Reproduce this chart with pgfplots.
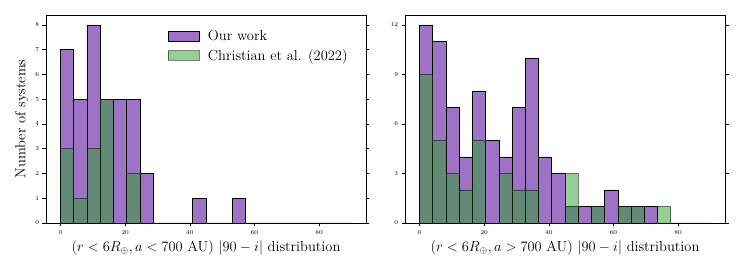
\documentclass[border=0pt]{standalone}
\usepackage{pgfplots}
\pgfplotsset{compat=1.18}
\definecolor{cpurple}{RGB}{158,114,196}
\definecolor{cgreen}{RGB}{44,160,44}

\pgfplotstableread{
x    y
0.00  7
4.09  5
8.18  8
12.27 5
16.36 5
20.45 5
24.55 2
28.64 0
32.73 0
36.82 0
40.91 1
45.00 0
49.09 0
53.18 1
57.27 0
61.36 0
65.45 0
69.55 0
73.64 0
77.73 0
81.82 0
85.91 0
90.00 0
}\leftours
\pgfplotstableread{
x    y
0.00  3
4.09  1
8.18  3
12.27 5
16.36 0
20.45 2
24.55 0
28.64 0
32.73 0
36.82 0
40.91 0
45.00 0
49.09 0
53.18 0
57.27 0
61.36 0
65.45 0
69.55 0
73.64 0
77.73 0
81.82 0
85.91 0
90.00 0
}\leftchr
\pgfplotstableread{
x    y
0.00  12
4.09  11
8.18  7
12.27 4
16.36 8
20.45 5
24.55 4
28.64 7
32.73 10
36.82 4
40.91 3
45.00 1
49.09 1
53.18 1
57.27 2
61.36 1
65.45 1
69.55 1
73.64 0
77.73 0
81.82 0
85.91 0
90.00 0
}\rightours
\pgfplotstableread{
x    y
0.00  9
4.09  5
8.18  3
12.27 2
16.36 5
20.45 0
24.55 3
28.64 2
32.73 2
36.82 0
40.91 0
45.00 3
49.09 0
53.18 1
57.27 0
61.36 1
65.45 1
69.55 0
73.64 1
77.73 0
81.82 0
85.91 0
90.00 0
}\rightchr

\pgfplotsset{
  hist/.style={
    width=320pt, height=208pt, scale only axis,
    xmin=-4.5, xmax=94.5, ymin=0,
    xtick={0,20,40,60,80},
    tick align=outside, xtick pos=bottom, ytick pos=both, yticklabel pos=left,
    major tick length=3.5pt,
    tick label style={font=\fontsize{6}{7}\selectfont},
    label style={font=\fontsize{14.5}{17}\selectfont},
    axis line style={line width=0.9pt},
    every tick/.style={black, line width=0.6pt},
    xticklabel style={yshift=-1pt},
    xlabel style={yshift=1pt},
  },
  ours/.style={ybar interval, fill=cpurple, draw=black, line width=0.6pt,
    legend image code/.code={\draw[#1] (0pt,-4.5pt) rectangle (31pt,5pt); \path[draw=none,fill=none] (0pt,0pt) -- (38pt,0pt);}},
  chr/.style={ybar interval, fill=cgreen, fill opacity=0.5, draw=black, draw opacity=0.5, line width=0.6pt,
    legend image code/.code={\draw[#1] (0pt,-4.5pt) rectangle (31pt,5pt); \path[draw=none,fill=none] (0pt,0pt) -- (38pt,0pt);}},
}

\begin{document}
\begin{tikzpicture}
\begin{axis}[hist, at={(0pt,0pt)},
  ymax=8.4, ytick={0,1,...,8},
  xlabel={$(r<6R_\oplus, a<700$ AU$)$ $|90-i|$ distribution},
  ylabel={Number of systems},
  legend style={at={(rel axis cs:0.37,0.945)}, anchor=north west, draw=none, fill=none,
    font=\fontsize{14.5}{17}\selectfont, legend cell align=left, row sep=3pt},
]
\addplot[ours] table[x=x,y=y] {\leftours};
\addlegendentry{Our work}
\addplot[chr] table[x=x,y=y] {\leftchr};
\addlegendentry{Christian et al. (2022)}
\end{axis}
\begin{axis}[hist, at={(359pt,0pt)},
  ymax=12.6, ytick={0,3,...,12},
  xlabel={$(r<6R_\oplus, a>700$ AU$)$ $|90-i|$ distribution},
]
\addplot[ours] table[x=x,y=y] {\rightours};
\addplot[chr] table[x=x,y=y] {\rightchr};
\end{axis}
\pgfresetboundingbox
\path (-46pt,-57pt) rectangle (701pt,223pt);
\end{tikzpicture}
\end{document}
